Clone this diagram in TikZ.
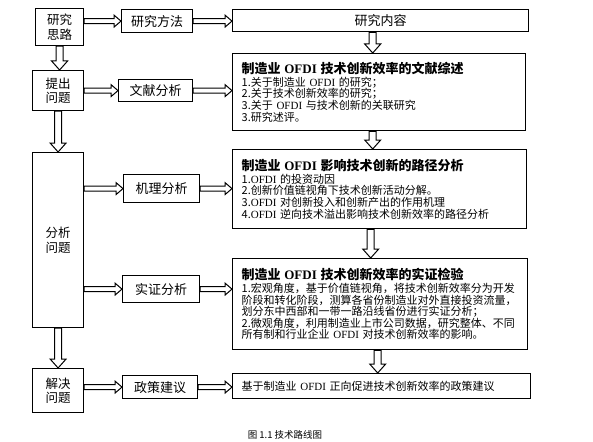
\documentclass[tikz,border=0pt]{standalone}
\usepackage{fontspec}
\setmainfont{Noto Sans CJK SC}
\newfontfamily\latinfont{Liberation Serif}
\usetikzlibrary{calc}
\newcommand{\ofdi}{{\latinfont OFDI}}
\tikzset{
  lbox/.style={draw, line width=1.2pt, anchor=north west, inner sep=0pt, align=center,
    font=\fontsize{12.5}{14.5}\selectfont},
  mbox/.style={draw, line width=1.2pt, anchor=north west, inner sep=0pt, align=center,
    font=\fontsize{13}{15}\selectfont},
  rbox/.style={draw, line width=1.4pt, anchor=north west, inner xsep=9pt, inner ysep=0pt,
    align=left, font=\fontsize{11}{11.6}\selectfont},
  harrow/.style={draw, line width=1pt, fill=white, to path={
    let \p1=(\tikztostart), \p2=(\tikztotarget) in
    (\x1,\y1+2.5pt) -- (\x2-7pt,\y1+2.5pt) -- (\x2-7pt,\y1+6pt) -- (\x2,\y1)
    -- (\x2-7pt,\y1-6pt) -- (\x2-7pt,\y1-2.5pt) -- (\x1,\y1-2.5pt) -- cycle}},
  varrow/.style={draw, line width=1pt, fill=white, to path={
    let \p1=(\tikztostart), \p2=(\tikztotarget) in
    (\x1-3.5pt,\y1) -- (\x1-3.5pt,\y2+9pt) -- (\x1-8pt,\y2+9pt) -- (\x1,\y2)
    -- (\x1+8pt,\y2+9pt) -- (\x1+3.5pt,\y2+9pt) -- (\x1+3.5pt,\y1) -- cycle}},
}
\begin{document}
\begin{tikzpicture}[x=1pt,y=-1pt]
\useasboundingbox[fill=white] (0,0) rectangle (593,441);
% left column
\node[lbox, minimum width=48pt, minimum height=37pt] (A) at (35,8) {研究\\思路};
\node[lbox, minimum width=51pt, minimum height=40pt] (D) at (32,70) {提出\\问题};
\node[lbox, minimum width=51pt, minimum height=175pt] (G) at (32,152) {分析\\问题};
\node[lbox, minimum width=51pt, minimum height=44pt] (L) at (32,368) {解决\\问题};
% middle column
\node[mbox, minimum width=71pt, minimum height=23pt] (B) at (121,9) {研究方法};
\node[mbox, minimum width=74pt, minimum height=22pt] (E) at (118,79) {文献分析};
\node[mbox, minimum width=76pt, minimum height=28pt] (H) at (123,174) {机理分析};
\node[mbox, minimum width=77pt, minimum height=27pt] (J) at (122,275) {实证分析};
\node[mbox, minimum width=75pt, minimum height=23pt] (M) at (122,375) {政策建议};
% right column
\node[mbox, line width=1.4pt, minimum width=296pt, minimum height=22pt] (C) at (232,9) {研究内容};
\node[rbox, minimum width=293pt, minimum height=77pt, text width=275pt] (F) at (232,53)
 {{\bfseries\fontsize{13}{14}\selectfont 制造业 \ofdi{} 技术创新效率的文献综述}\\[1pt]
  1.关于制造业 \ofdi{} 的研究；\\
  2.关于技术创新效率的研究；\\
  3.关于 \ofdi{} 与技术创新的关联研究\\
  3.研究述评。};
\node[rbox, minimum width=294pt, minimum height=79pt, text width=276pt] (I) at (232,149)
 {{\bfseries\fontsize{13}{14}\selectfont 制造业 \ofdi{} 影响技术创新的路径分析}\\[1pt]
  1.\ofdi{} 的投资动因\\
  2.创新价值链视角下技术创新活动分解。\\
  3.\ofdi{} 对创新投入和创新产出的作用机理\\
  4.\ofdi{} 逆向技术溢出影响技术创新效率的路径分析};
\node[rbox, minimum width=295pt, minimum height=91pt, text width=277pt] (K) at (232,258)
 {{\bfseries\fontsize{13}{14}\selectfont 制造业 \ofdi{} 技术创新效率的实证检验}\\[1pt]
  1.宏观角度，基于价值链视角，将技术创新效率分为开发\\
  阶段和转化阶段，测算各省份制造业对外直接投资流量，\\
  划分东中西部和一带一路沿线省份进行实证分析；\\
  2.微观角度，利用制造业上市公司数据，研究整体、不同\\
  所有制和行业企业 \ofdi{} 对技术创新效率的影响。};
\node[rbox, minimum width=298pt, minimum height=25pt, text width=280pt] (N) at (232,373)
 {基于制造业 \ofdi{} 正向促进技术创新效率的政策建议};
% caption
\node[font=\fontsize{9.5}{11}\selectfont, inner sep=0pt] (cap) at (285,435) {图 1.1 技术路线图};
% vertical arrows left
\draw[varrow] (A.south) to (D.north);
\draw[varrow] (D.south) to (G.north);
\draw[varrow] (G.south) to (L.north);
% vertical arrows right
\draw[varrow] ([xshift=-8pt]C.south) to ([xshift=-8pt]F.north);
\draw[varrow] ([xshift=-6.5pt]F.south) to ([xshift=-6.5pt]I.north);
\draw[varrow] ([xshift=-9pt]I.south) to ([xshift=-9pt]K.north);
\draw[varrow] ([xshift=-2.5pt]K.south) to ([xshift=-2.5pt]N.north);
% horizontal arrows
\draw[harrow] (A.east |- B.west) to (B.west);
\draw[harrow] (B.east) to (C.west |- B.east);
\draw[harrow] (D.east |- E.west) to (E.west);
\draw[harrow] (E.east) to (F.west |- E.east);
\draw[harrow] (G.east |- H.west) to (H.west);
\draw[harrow] (H.east) to (I.west |- H.east);
\draw[harrow] (G.east |- J.west) to (J.west);
\draw[harrow] (J.east) to (K.west |- J.east);
\draw[harrow] (L.east |- M.west) to (M.west);
\draw[harrow] (M.east) to (N.west |- M.east);
\end{tikzpicture}
\end{document}
